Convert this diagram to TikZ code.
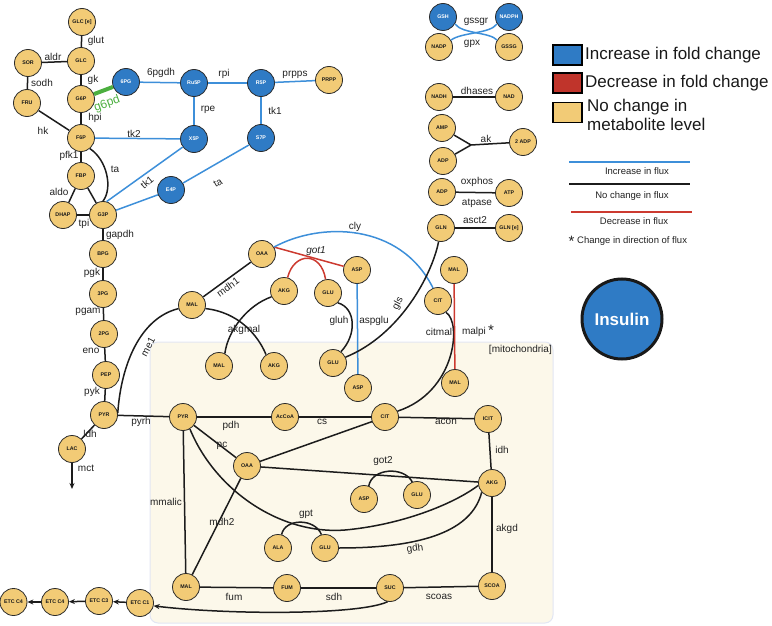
\documentclass[tikz,border=0pt]{standalone}
\usepackage{fontspec}
\setmainfont{Liberation Sans}
\usetikzlibrary{arrows.meta}
\definecolor{metY}{HTML}{F2CB76}
\definecolor{metB}{HTML}{2F7BC5}
\definecolor{fluxB}{HTML}{3D8FD9}
\definecolor{fluxR}{HTML}{CC3A30}
\definecolor{gG}{HTML}{4CAF3F}
\definecolor{mitoF}{HTML}{FCF8EA}
\definecolor{mitoD}{HTML}{E2E6F3}
\definecolor{legR}{HTML}{C0342B}
\definecolor{lineK}{HTML}{1C1C1C}
\definecolor{labC}{HTML}{222222}
\definecolor{nodeD}{HTML}{2A2A2A}
\begin{document}
\begin{tikzpicture}[x=1pt,y=-1pt,
  met/.style={circle,draw=nodeD,fill=metY,line width=0.8pt,minimum size=27pt,inner sep=0pt,
    font=\fontsize{5.3}{6}\selectfont\bfseries,text=black!90},
  metb/.style={met,fill=metB,text=white},
  lab/.style={font=\fontsize{10}{12}\selectfont,text=labC,inner sep=0pt},
  kx/.style={line width=1.5pt,draw=lineK},
  bx/.style={line width=1.5pt,draw=fluxB},
  rdx/.style={line width=1.5pt,draw=fluxR},
  gx/.style={line width=4pt,draw=gG},
  arr/.style={kx,-{Stealth[length=6pt,width=5pt]}},
  legbox/.style={draw=black,line width=1.2pt,minimum width=29pt,minimum height=20pt,inner sep=0pt},
  legtxt/.style={anchor=west,font=\fontsize{17}{19}\selectfont,inner sep=0pt,text=black!90,align=left},
  legsm/.style={font=\fontsize{9.5}{11}\selectfont,inner sep=0pt,text=labC}
]
\useasboundingbox (0,0) rectangle (772,626);
% mitochondria compartment
\draw[draw=mitoD,fill=mitoF,line width=1pt,rounded corners=8pt] (150,342) rectangle (553,623);
\node[lab,anchor=east] (mitoLab) at (552,350) {[mitochondria]};

% ---------- glycolysis / PPP nodes
\node[met] (GLCe) at (82,22) {GLC [e]};
\node[met] (GLC) at (81,61) {GLC};
\node[met] (SOR) at (28,63) {SOR};
\node[met] (FRU) at (27,103) {FRU};
\node[met] (G6P) at (81,99) {G6P};
\node[metb] (PG6) at (126,82) {6PG};
\node[metb] (RU5P) at (194,83) {Ru5P};
\node[metb] (R5P) at (261,83) {R5P};
\node[met] (PRPP) at (329,80) {PRPP};
\node[metb] (X5P) at (194,139) {X5P};
\node[metb] (S7P) at (261,138) {S7P};
\node[met] (F6P) at (81,138) {F6P};
\node[met] (FBP) at (81,176) {FBP};
\node[met] (DHAP) at (63,215) {DHAP};
\node[met] (G3P) at (103,215) {G3P};
\node[metb] (E4P) at (171,190) {E4P};
\node[met] (BPG) at (103,254) {BPG};
\node[met] (PG3) at (103,294) {3PG};
\node[met] (PG2) at (104,334) {2PG};
\node[met] (PEP) at (106,375) {PEP};
\node[met] (PYRc) at (104,415) {PYR};
\node[met] (LAC) at (72,449) {LAC};
\coordinate (mctEnd) at (72,489);

% ---------- top right
\node[metb] (GSH) at (443,17) {GSH};
\node[metb] (NADPH) at (509,17) {NADPH};
\node[met] (NADP) at (439,47) {NADP};
\node[met] (GSSG) at (509,47) {GSSG};
\node[met] (NADH) at (439,97) {NADH};
\node[met] (NAD) at (509,97) {NAD};
\node[met] (AMP) at (442,128) {AMP};
\node[met] (ADPa) at (443,161) {ADP};
\node[met] (ADP2) at (523,142) {2 ADP};
\node[met] (ADPb) at (442,192) {ADP};
\node[met] (ATP) at (509,193) {ATP};
\node[met] (GLN) at (441,228) {GLN};
\node[met] (GLNe) at (509,228) {GLN [e]};
\coordinate (akJ) at (471,145);

% ---------- cytosol shuttle nodes
\node[met] (OAAc) at (262,254) {OAA};
\node[met] (MALc) at (192,305) {MAL};
\node[met] (AKGc) at (284,291) {AKG};
\node[met] (GLUc) at (328,293) {GLU};
\node[met] (ASPc) at (357,270) {ASP};
\node[met] (MALm1) at (219,366) {MAL};
\node[met] (AKGm1) at (274,366) {AKG};
\node[met] (GLUm1) at (333,363) {GLU};
\node[met] (ASPm1) at (358,388) {ASP};
\node[met] (MALc2) at (454,270) {MAL};
\node[met] (CITc) at (438,301) {CIT};
\node[met] (MALm2) at (455,383) {MAL};

% ---------- mitochondria nodes
\node[met] (PYRm) at (183,417) {PYR};
\node[met] (ACOA) at (285,417) {AcCoA};
\node[met] (CITm) at (385,417) {CIT};
\node[met] (ICIT) at (488,419) {ICIT};
\node[met] (OAAm) at (247,466) {OAA};
\node[met] (ASPm2) at (364,499) {ASP};
\node[met] (GLUm2) at (417,495) {GLU};
\node[met] (AKGm2) at (492,483) {AKG};
\node[met] (ALA) at (278,548) {ALA};
\node[met] (GLUm3) at (325,548) {GLU};
\node[met] (MALm3) at (186,587) {MAL};
\node[met] (FUM) at (287,588) {FUM};
\node[met] (SUC) at (390,588) {SUC};
\node[met] (SCOA) at (492,586) {SCOA};
\node[met] (ETC1) at (140,603) {ETC C1};
\node[met] (ETC3) at (99,601) {ETC C3};
\node[met] (ETC4a) at (55,602) {ETC C4};
\node[met] (ETC4b) at (13.5,602) {ETC C4};

% ---------- glycolysis / PPP edges
\draw[kx] (GLCe) -- (GLC);
\draw[kx] (SOR) -- (GLC);
\draw[kx] (SOR) -- (FRU);
\draw[kx] (GLC) -- (G6P);
\draw[gx] (G6P) -- (PG6);
\draw[bx] (PG6) -- (RU5P);
\draw[bx] (RU5P) -- (R5P);
\draw[bx] (R5P) -- (PRPP);
\draw[bx] (RU5P) -- (X5P);
\draw[bx] (R5P) -- (S7P);
\draw[kx] (G6P) -- (F6P);
\draw[kx] (FRU) -- (F6P);
\draw[bx] (F6P) -- (X5P);
\draw[kx] (F6P) -- (FBP);
\draw[kx] (F6P.-50) .. controls (107,160) and (113,188) .. (G3P.north);
\draw[kx] (FBP) -- (DHAP);
\draw[kx] (FBP) -- (G3P);
\draw[kx] (DHAP) -- (G3P);
\draw[bx] (X5P) -- (G3P.75);
\draw[bx] (E4P) -- (G3P);
\draw[bx] (S7P) -- (E4P);
\draw[kx] (G3P) -- (BPG);
\draw[kx] (BPG) -- (PG3);
\draw[kx] (PG3) -- (PG2);
\draw[kx] (PG2) -- (PEP);
\draw[kx] (PEP) -- (PYRc);
\draw[kx] (PYRc) -- (LAC);
\draw[arr] (LAC) -- (mctEnd);
\draw[kx] (PYRc) -- (PYRm);
\draw[kx] (PYRc.8) .. controls (121,365) and (140,318) .. (MALc.195);

\node[lab] (l-glut) at (96,41) {glut};
\node[lab] (l-aldr) at (53,57) {aldr};
\node[lab] (l-sodh) at (42,83) {sodh};
\node[lab] (l-gk) at (93,80) {gk};
\node[lab,text=gG,font=\fontsize{12}{14}\selectfont,rotate=20] (l-g6pd) at (107,104) {g6pd};
\node[lab] (l-hpi) at (95,118) {hpi};
\node[lab] (l-hk) at (43,131) {hk};
\node[lab] (l-6pgdh) at (161,73) {6pgdh};
\node[lab] (l-rpi) at (224,74) {rpi};
\node[lab] (l-rpe) at (208,110) {rpe};
\node[lab] (l-prpps) at (295,75) {prpps};
\node[lab] (l-tk1b) at (275,111) {tk1};
\node[lab] (l-tk2) at (134,134) {tk2};
\node[lab] (l-pfk1) at (69,156) {pfk1};
\node[lab] (l-ta) at (115,169) {ta};
\node[lab] (l-aldo) at (59,192) {aldo};
\node[lab] (l-tpi) at (84,224) {tpi};
\node[lab,rotate=40] (l-tk1) at (147,182) {tk1};
\node[lab,rotate=30] (l-ta2) at (218,183) {ta};
\node[lab] (l-gapdh) at (120,235) {gapdh};
\node[lab] (l-pgk) at (92,273) {pgk};
\node[lab] (l-pgam) at (88,312) {pgam};
\node[lab] (l-eno) at (91,351) {eno};
\node[lab] (l-pyk) at (92,392) {pyk};
\node[lab] (l-ldh) at (90,434) {ldh};
\node[lab] (l-mct) at (86,468) {mct};
\node[lab] (l-pyrh) at (141,422) {pyrh};
\node[lab,rotate=62] (l-me1) at (148,347) {me1};

% ---------- top right edges
\draw[bx] (GSH.-30) .. controls (462,34) and (490,32) .. (GSSG.150);
\draw[bx] (NADP.30) .. controls (462,32) and (490,34) .. (NADPH.-150);
\draw[kx] (NADH) -- (NAD);
\draw[kx] (AMP) -- (akJ);
\draw[kx] (ADPa) -- (akJ);
\draw[kx] (akJ) -- (ADP2);
\draw[kx] (ADPb) -- (ATP);
\draw[kx] (GLN) -- (GLNe);
\node[lab] (l-gssgr) at (476,22) {gssgr};
\node[lab] (l-gpx) at (472,44) {gpx};
\node[lab] (l-dhases) at (477,91) {dhases};
\node[lab] (l-ak) at (486,139) {ak};
\node[lab] (l-oxphos) at (477,182) {oxphos};
\node[lab] (l-atpase) at (477,203) {atpase};
\node[lab] (l-asct2) at (475,220) {asct2};

% ---------- shuttles
\draw[kx] (MALc) -- (OAAc);
\draw[kx] (MALc.-15) .. controls (238,312) and (258,335) .. (AKGm1.125);
\draw[kx] (AKGc.205) .. controls (248,305) and (228,330) .. (MALm1.65);
\draw[rdx] (OAAc.30) -- (ASPc);
\draw[rdx] (AKGc.75) .. controls (294,252) and (321,251) .. (GLUc.100);
\draw[bx] (OAAc.30) .. controls (320,222) and (400,222) .. (CITc.111);
\draw[kx] (GLUc.-45) .. controls (356,308) and (357,335) .. (GLUm1.55);
\draw[bx] (ASPc) -- (ASPm1);
\draw[kx] (GLN.-100) .. controls (432,275) and (400,335) .. (GLUm1.25);
\draw[kx] (CITc.-55) .. controls (462,322) and (456,392) .. (CITm.25);
\draw[rdx] (MALc2) -- (MALm2);
\node[lab,rotate=36] (l-mdh1) at (228,287) {mdh1};
\node[lab] (l-akgmal) at (244,330) {akgmal};
\node[lab,font=\fontsize{10}{12}\selectfont\itshape] (l-got1) at (316,251) {got1};
\node[lab] (l-cly) at (355,227) {cly};
\node[lab] (l-gluh) at (339,321) {gluh};
\node[lab] (l-aspglu) at (374,321) {aspglu};
\node[lab,rotate=62] (l-gls) at (398,304) {gls};
\node[lab] (l-citmal) at (439,332) {citmal};
\node[lab] (l-malpi) at (474,332) {malpi};
\node[inner sep=0pt,font=\fontsize{15}{15}\selectfont,text=labC] (l-star) at (491,330) {*};

% ---------- mitochondria edges
\draw[kx] (PYRm) -- (ACOA);
\draw[kx] (ACOA) -- (CITm);
\draw[kx] (CITm) -- (ICIT);
\draw[kx] (ICIT) -- (AKGm2);
\draw[kx] (AKGm2) -- (SCOA);
\draw[kx] (SCOA) -- (SUC);
\draw[kx] (SUC) -- (FUM);
\draw[kx] (FUM) -- (MALm3);
\draw[kx] (PYRm) -- (MALm3);
\draw[kx] (MALm3) -- (OAAm);
\draw[kx] (PYRm) -- (OAAm);
\draw[kx] (OAAm) -- (CITm);
\draw[kx] (OAAm) -- (AKGm2);
\draw[kx] (PYRm.-60) .. controls (215,490) and (280,535) .. (345,530) .. controls (400,525) and (452,505) .. (AKGm2.190);
\draw[kx] (ALA.75) .. controls (285,518) and (315,518) .. (GLUm3.105);
\draw[kx] (ASPm2.70) .. controls (372,468) and (404,466) .. (GLUm2.110);
\draw[kx] (GLUm3.east) .. controls (425,548) and (472,530) .. (AKGm2.222);
\draw[arr] (SUC.-100) .. controls (360,615) and (230,615) .. (ETC1.-12);
\draw[arr] (ETC1) -- (ETC3);
\draw[arr] (ETC3) -- (ETC4a);
\draw[arr] (ETC4a) -- (ETC4b);
\node[lab] (l-pdh) at (231,426) {pdh};
\node[lab] (l-cs) at (322,422) {cs};
\node[lab] (l-acon) at (446,422) {acon};
\node[lab] (l-idh) at (502,450) {idh};
\node[lab] (l-pc) at (222,446) {pc};
\node[lab] (l-got2) at (383,461) {got2};
\node[lab] (l-mmalic) at (166,502) {mmalic};
\node[lab] (l-mdh2) at (222,522) {mdh2};
\node[lab] (l-gpt) at (306,514) {gpt};
\node[lab,rotate=8] (l-gdh) at (415,549) {gdh};
\node[lab] (l-akgd) at (507,529) {akgd};
\node[lab] (l-fum) at (234,597) {fum};
\node[lab] (l-sdh) at (334,597) {sdh};
\node[lab] (l-scoas) at (439,597) {scoas};

% ---------- insulin
\node[circle,fill=metB,draw=black!90,line width=3pt,minimum size=80pt,inner sep=0pt,text=white,
  font=\fontsize{17}{20}\selectfont\bfseries] (INS) at (622,319) {Insulin};

% ---------- legend
\node[legbox,fill=metB] (lgB) at (567.5,55) {};
\node[legtxt] (lgBt) at (585,55) {Increase in fold change};
\node[legbox,fill=legR] (lgR) at (567.5,83) {};
\node[legtxt] (lgRt) at (585,83) {Decrease in fold change};
\node[legbox,fill=metY] (lgY) at (567.5,112.5) {};
\node[legtxt] (lgYt) at (587,115) {No change in\\metabolite level};
\coordinate (lfb1) at (569,162); \coordinate (lfb2) at (690,162);
\coordinate (lfk1) at (569,184); \coordinate (lfk2) at (690,184);
\coordinate (lfr1) at (571,212); \coordinate (lfr2) at (692,212);
\draw[draw=fluxB,line width=1.2pt] (lfb1) -- (lfb2);
\draw[draw=lineK,line width=1.2pt] (lfk1) -- (lfk2);
\draw[draw=fluxR,line width=1.2pt] (lfr1) -- (lfr2);
\node[legsm] (lfbt) at (637,171) {Increase in flux};
\node[legsm] (lfkt) at (632,196) {No change in flux};
\node[legsm] (lfrt) at (634,221) {Decrease in flux};
\node[inner sep=0pt,font=\fontsize{15}{15}\selectfont,text=labC] (lstar) at (571.5,241.5) {*};
\node[legsm,anchor=west] (lstart) at (577,241) {Change in direction of flux};
\end{tikzpicture}
\end{document}
